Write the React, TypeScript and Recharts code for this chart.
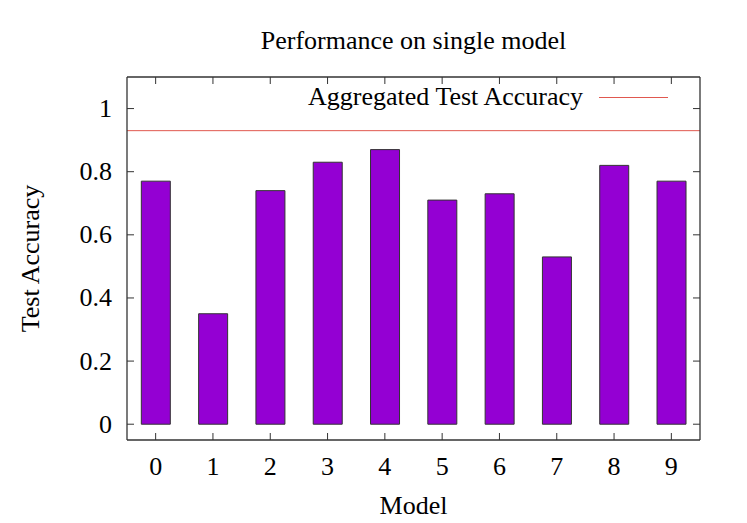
import {
  ComposedChart,
  Bar,
  Line,
  XAxis,
  YAxis,
  ReferenceLine,
  Label,
} from "recharts";

document.body.style.margin = "0";

const models = ["0", "1", "2", "3", "4", "5", "6", "7", "8", "9"];
const accuracy = [0.77, 0.35, 0.74, 0.83, 0.87, 0.71, 0.73, 0.53, 0.82, 0.77];
const aggregatedAccuracy = 0.93;
const yTicks = [0, 0.2, 0.4, 0.6, 0.8, 1];

const data = models.map((model, i) => ({ model, accuracy: accuracy[i] }));

const FONT = "'Liberation Serif', 'Times New Roman', serif";
const FONT_SIZE = 26;
const FRAME = "#333333";
const LINE_RED = "#e0584f";
const TICK_LEN = 7;

function LeftTick({ x, y, payload }: any) {
  return (
    <g>
      <line x1={x + 15} x2={x + 15 + TICK_LEN} y1={y} y2={y} stroke={FRAME} />
      <text
        x={x}
        y={y}
        textAnchor="end"
        dominantBaseline="central"
        fontFamily={FONT}
        fontSize={FONT_SIZE}
        fill="#000"
      >
        {payload.value}
      </text>
    </g>
  );
}

function RightTick({ x, y }: any) {
  return <line x1={x - TICK_LEN} x2={x} y1={y} y2={y} stroke={FRAME} />;
}

function BottomTick({ x, y, payload }: any) {
  return (
    <g>
      <line x1={x} x2={x} y1={y - TICK_LEN} y2={y} stroke={FRAME} />
      <text
        x={x}
        y={y + 26}
        textAnchor="middle"
        dominantBaseline="central"
        fontFamily={FONT}
        fontSize={FONT_SIZE}
        fill="#000"
      >
        {payload.value}
      </text>
    </g>
  );
}

function TopTick({ x, y }: any) {
  return <line x1={x} x2={x} y1={y} y2={y + TICK_LEN} stroke={FRAME} />;
}

export default function App() {
  return (
    <div
      style={{ position: "relative", width: 747, height: 523, background: "#fff" }}
    >
      <ComposedChart
        width={747}
        height={523}
        data={data}
        margin={{ top: 57, right: 27, bottom: 0, left: 0 }}
        barCategoryGap="25%"
      >
        <XAxis
          dataKey="model"
          height={83}
          tickSize={0}
          tickMargin={0}
          tickLine={false}
          tick={<BottomTick />}
          axisLine={{ stroke: FRAME, strokeWidth: 1.3 }}
          interval={0}
        >
          <Label
            content={({ viewBox }: any) => (
              <text
                x={viewBox.x + viewBox.width / 2}
                y={505}
                textAnchor="middle"
                dominantBaseline="central"
                fontFamily={FONT}
                fontSize={FONT_SIZE}
              >
                Model
              </text>
            )}
          />
        </XAxis>
        <XAxis
          xAxisId="top"
          dataKey="model"
          orientation="top"
          height={20}
          tickSize={0}
          tickMargin={0}
          tickLine={false}
          tick={<TopTick />}
          axisLine={{ stroke: FRAME, strokeWidth: 1.3 }}
          interval={0}
        >
          <Label
            content={({ viewBox }: any) => (
              <text
                x={viewBox.x + viewBox.width / 2}
                y={40}
                textAnchor="middle"
                dominantBaseline="central"
                fontFamily={FONT}
                fontSize={FONT_SIZE}
              >
                Performance on single model
              </text>
            )}
          />
        </XAxis>
        <YAxis
          width={127}
          domain={[-0.05, 1.1]}
          ticks={yTicks}
          allowDataOverflow
          tickSize={0}
          tickMargin={15}
          tickLine={false}
          tick={<LeftTick />}
          axisLine={{ stroke: FRAME, strokeWidth: 1.3 }}
        >
          <Label
            content={({ viewBox }: any) => (
              <text
                x={30}
                y={viewBox.y + viewBox.height / 2}
                textAnchor="middle"
                dominantBaseline="central"
                fontFamily={FONT}
                fontSize={FONT_SIZE}
                transform={`rotate(-90 30 ${viewBox.y + viewBox.height / 2})`}
              >
                Test Accuracy
              </text>
            )}
          />
        </YAxis>
        <YAxis
          yAxisId="right"
          orientation="right"
          width={20}
          domain={[-0.05, 1.1]}
          ticks={yTicks}
          allowDataOverflow
          tickSize={0}
          tickMargin={0}
          tickLine={false}
          tick={<RightTick />}
          axisLine={{ stroke: FRAME, strokeWidth: 1.3 }}
        />
        <ReferenceLine y={aggregatedAccuracy} stroke={LINE_RED} strokeWidth={1} />
        <Bar
          dataKey="accuracy"
          fill="#9400d3"
          stroke="#333333"
          strokeWidth={1}
          isAnimationActive={false}
        />
        {/* invisible series so the mirrored top/right axes get drawn */}
        <Line
          xAxisId="top"
          yAxisId="right"
          dataKey="accuracy"
          stroke="none"
          dot={false}
          activeDot={false}
          legendType="none"
          isAnimationActive={false}
        />
      </ComposedChart>
      <div
        style={{
          position: "absolute",
          top: 83,
          right: 79,
          display: "flex",
          alignItems: "center",
          fontFamily: FONT,
          fontSize: FONT_SIZE,
          lineHeight: "28px",
          color: "#000",
        }}
      >
        <span>Aggregated Test Accuracy</span>
        <span
          style={{
            display: "inline-block",
            width: 69,
            height: 0,
            borderTop: `1px solid ${LINE_RED}`,
            marginLeft: 16,
          }}
        />
      </div>
    </div>
  );
}
